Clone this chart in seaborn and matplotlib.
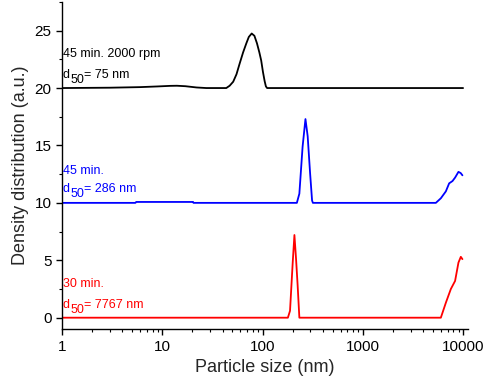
import numpy as np
import pandas as pd
import matplotlib
matplotlib.use('Agg')
import matplotlib.pyplot as plt
import seaborn as sns

# particle size (nm) and offset density curves
x_2000rpm = [1, 3, 6, 9, 12, 14, 17, 22, 27.5, 40, 43.5, 47, 51, 55, 59, 64, 69, 73, 78, 83, 88, 93, 97, 101, 105, 108, 111, 10000]
y_2000rpm = [20.0, 20.03, 20.08, 20.14, 20.19, 20.2, 20.16, 20.05, 20.0, 20.0, 20.0, 20.2, 20.55, 21.2, 22.1, 23.1, 23.9, 24.45, 24.75, 24.55, 23.9, 23.1, 22.4, 21.4, 20.6, 20.15, 20.0, 20.0]

x_45min = [1, 5.4, 5.5, 20.3, 20.5, 220, 233, 251, 268, 282, 298, 312, 318, 5350, 6000, 6730, 7260, 7840, 8320, 8990, 9450, 9850]
y_45min = [10.0, 10.0, 10.08, 10.08, 10.0, 10.0, 10.8, 14.9, 17.3, 15.8, 12.6, 10.2, 10.0, 10.0, 10.4, 11.0, 11.7, 11.9, 12.2, 12.7, 12.6, 12.4]

x_30min = [1, 179, 188, 200, 208, 216, 224, 233, 6000, 6730, 7550, 8320, 8990, 9490, 9850]
y_30min = [0.0, 0.0, 0.6, 4.8, 7.2, 5.1, 2.8, 0.0, 0.0, 1.3, 2.5, 3.2, 4.8, 5.3, 5.1]

labels_top = ['45 min. 2000 rpm', '45 min.', '30 min.']
labels_d50 = ['75', '286', '7767']
colors = ['black', 'blue', 'red']

sns.set_style('ticks')
plt.rcParams['font.family'] = ['Liberation Sans', 'DejaVu Sans']

fig = plt.figure(figsize=(4.84, 3.85), dpi=100)
ax = fig.add_axes([0.128, 0.145, 0.839, 0.85])

series = [(x_2000rpm, y_2000rpm), (x_45min, y_45min), (x_30min, y_30min)]
for (xs, ys), c in zip(series, colors):
    df = pd.DataFrame({'size': xs, 'density': ys})
    sns.lineplot(data=df, x='size', y='density', color=c, lw=1.3, ax=ax, sort=False)

ax.set_xscale('log')
ax.set_xlim(1, 11200)
ax.set_ylim(-1, 27.5)
ax.set_yticks([0, 5, 10, 15, 20, 25])
ax.yaxis.set_minor_locator(matplotlib.ticker.MultipleLocator(2.5))
ax.set_xticks([1, 10, 100, 1000, 10000])
ax.set_xticklabels(['1', '10', '100', '1000', '10000'])

sns.despine(ax=ax)
for s in ['left', 'bottom']:
    ax.spines[s].set_linewidth(1.0)
    ax.spines[s].set_color('black')
ax.tick_params(which='major', direction='out', length=4, width=1, labelsize=11, colors='black')
ax.tick_params(which='minor', direction='out', length=2.5, width=0.8, colors='black')

ax.set_xlabel('Particle size (nm)', fontsize=13)
ax.set_ylabel('Density distribution (a.u.)', fontsize=13)

# annotations: (first line y, d50 line y); d50 subscript drawn as its own text
text_y = [(22.67, 20.84), (12.5, 10.98), (2.67, 0.84)]
fs = 9
for (y1, y2), t, d, c in zip(text_y, labels_top, labels_d50, colors):
    ax.text(1.02, y1, t, color=c, fontsize=fs, va='baseline')
    ax.annotate('d', (1.02, y2), color=c, fontsize=fs, va='baseline')
    ax.annotate('50', (1.02, y2), xytext=(5.2, -3.6), textcoords='offset points',
                color=c, fontsize=fs, va='baseline')
    ax.annotate('= ' + d + ' nm', (1.02, y2), xytext=(15.2, 0), textcoords='offset points',
                color=c, fontsize=fs, va='baseline')

fig.savefig('out.png', dpi=100)
